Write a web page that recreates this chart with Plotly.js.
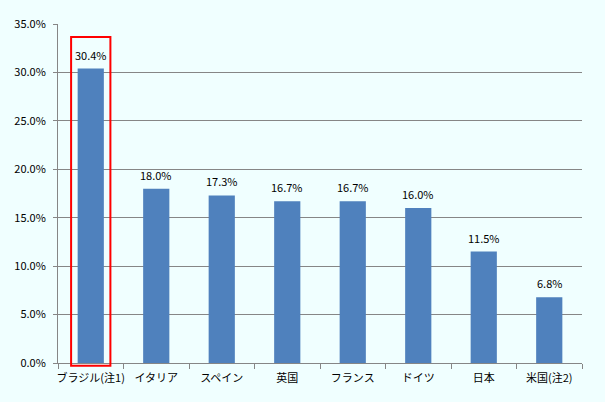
<!DOCTYPE html>
<html>
<head>
<meta charset="utf-8">
<script src="https://cdn.plot.ly/plotly-3.0.1.min.js"></script>
<style>
  html, body { margin: 0; padding: 0; background: #f0ffff; }
  #chart { width: 605px; height: 402px; }
</style>
</head>
<body>
<div id="chart"></div>
<script>
var countries = ['ブラジル(注1)', 'イタリア', 'スペイン', '英国', 'フランス', 'ドイツ', '日本', '米国(注2)'];
var shares = [30.4, 18.0, 17.3, 16.7, 16.7, 16.0, 11.5, 6.8];
var shareLabels = ['30.4%', '18.0%', '17.3%', '16.7%', '16.7%', '16.0%', '11.5%', '6.8%'];
var yTicks = [0, 5, 10, 15, 20, 25, 30, 35];
var yTickText = ['0.0%', '5.0%', '10.0%', '15.0%', '20.0%', '25.0%', '30.0%', '35.0%'];

var fontFamily = '"Noto Sans CJK JP", "Noto Sans", sans-serif';

var trace = {
  type: 'bar',
  x: countries,
  y: shares,
  marker: { color: '#4f81bd' },
  hoverinfo: 'x+y'
};

// value labels above each bar
var labels = countries.map(function (c, i) {
  return {
    x: c,
    y: shares[i],
    xref: 'x',
    yref: 'y',
    text: shareLabels[i],
    showarrow: false,
    yanchor: 'bottom',
    yshift: 4,
    font: { family: fontFamily, size: 11, color: '#000000' }
  };
});

var layout = {
  width: 605,
  height: 402,
  margin: { l: 58, r: 23, t: 24, b: 39, pad: 0 },
  paper_bgcolor: '#f0ffff',
  plot_bgcolor: '#f0ffff',
  showlegend: false,
  bargap: 0.6,
  font: { family: fontFamily, size: 11, color: '#000000' },
  annotations: labels,
  xaxis: {
    type: 'category',
    tickson: 'boundaries',
    tickangle: 0,
    ticks: 'outside',
    ticklen: 5,
    ticklabelstandoff: 5,
    tickcolor: '#868686',
    showline: true,
    linecolor: '#868686',
    linewidth: 1,
    showgrid: false,
    automargin: false,
    tickfont: { family: fontFamily, size: 11, color: '#000000' }
  },
  yaxis: {
    range: [0, 35],
    tickvals: yTicks,
    ticktext: yTickText,
    ticks: 'outside',
    ticklen: 4,
    ticklabelstandoff: 5,
    tickcolor: '#868686',
    showline: true,
    linecolor: '#868686',
    linewidth: 1,
    showgrid: true,
    gridcolor: '#868686',
    gridwidth: 1,
    zeroline: false,
    automargin: false,
    tickfont: { family: fontFamily, size: 11, color: '#000000' }
  },
  shapes: [{
    type: 'rect',
    xref: 'x',
    yref: 'paper',
    x0: -0.3,
    x1: 0.3,
    y0: -0.008,
    y1: 0.962,
    line: { color: '#ff0000', width: 2 },
    fillcolor: 'rgba(0,0,0,0)',
    layer: 'above'
  }]
};

Plotly.newPlot('chart', [trace], layout, { displayModeBar: false, staticPlot: true });
</script>
</body>
</html>
